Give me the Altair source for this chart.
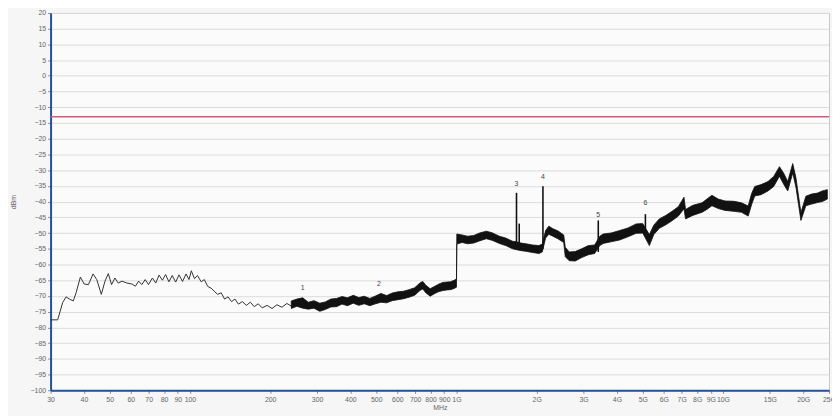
import altair as alt
import pandas as pd

# ---- data ----
low_freq = [30, 31.9, 33.3, 34.3, 35.3, 36.5, 37.4, 38.8, 40.1, 41.6, 43.3, 44.7, 46.5, 48.0, 49.4,
            50.8, 52.3, 53.8, 55.6, 58.0, 60.6, 62.4, 64.2, 66.0, 67.9, 69.9, 72.3, 74.4, 76.6, 78.8,
            81.0, 83.4, 85.8, 88.4, 91.0, 93.8, 96.7, 99.2, 101.2, 104, 106.7, 110.2, 113.2, 116.7,
            120, 123.3, 127.1, 131, 134.9, 139, 143.2, 147.6, 152, 157.3, 162.8, 168.5, 174.3, 180.4,
            186.6, 194.8, 203.2, 212.1, 221.4, 231, 241, 251.6]
low_dbm = [-77.6, -77.6, -72.1, -70.3, -71.0, -71.6, -69.0, -64.0, -66.2, -66.4, -63.0, -64.8, -69.5,
           -65.3, -62.9, -66.4, -64.3, -65.9, -65.3, -65.9, -66.2, -66.9, -65.3, -66.4, -64.8, -66.4,
           -64.3, -65.9, -63.4, -65.0, -63.2, -65.5, -63.5, -65.6, -63.3, -65.4, -63.0, -64.8, -62.0,
           -64.5, -63.5, -65.5, -64.8, -67.0, -67.5, -68.5, -69.5, -69.0, -71.0, -70.3, -71.8, -71.0,
           -72.6, -71.8, -73.0, -72.0, -73.4, -72.5, -73.8, -73.0, -74.0, -72.8, -73.6, -72.4, -73.3,
           -72.0]

band_freq = [240, 252, 265, 278, 292, 307, 322, 338, 355, 372, 390, 410, 430, 451, 473, 497, 521,
             547, 574, 603, 633, 664, 697, 731, 748, 767, 797, 830, 860, 890, 920, 950, 981, 1000,
             1003, 1050, 1100, 1160, 1220, 1294, 1360, 1449, 1530, 1624, 1680, 1750, 1820, 1930,
             2039, 2100, 2160, 2221, 2300, 2400, 2526, 2560, 2650, 2790, 2950, 3126, 3300, 3450,
             3553, 3800, 4097, 4400, 4721, 5000, 5294, 5500, 5767, 6100, 6461, 6800, 7141, 7238,
             7700, 8346, 8700, 9091, 9600, 10185, 11000, 11742, 12435, 12800, 13157, 13900, 14756,
             15500, 16290, 16900, 17498, 18271, 18790, 19609, 20466, 21500, 22617, 23600, 24637]
band_lo = [-74.0, -73.3, -73.9, -74.2, -73.9, -74.9, -74.3, -73.5, -73.4, -72.6, -73.1, -72.3, -73.0,
           -72.5, -73.1, -72.5, -72.0, -72.2, -71.5, -71.2, -70.9, -70.4, -69.8, -68.2, -67.8, -69.0,
           -70.1, -69.2, -68.6, -68.3, -68.1, -68.0, -67.6, -67.2,
           -53.5, -53.0, -53.4, -53.2, -52.5, -51.8, -52.3, -53.3, -54.0, -55.0, -55.3, -55.6, -55.8,
           -56.2, -56.5, -56.0, -51.6, -50.4, -51.0, -51.8, -53.0, -57.5, -58.8, -58.9, -57.8, -56.9,
           -56.5, -54.0, -53.3, -52.8, -52.2, -51.2, -50.1, -50.0, -54.0, -50.5, -48.5, -47.4, -46.0,
           -44.6, -42.3, -45.5, -44.4, -43.4, -42.5, -41.3, -42.2, -42.8, -43.1, -43.4, -44.6, -41.0,
           -38.2, -37.8, -36.6, -35.2, -31.9, -34.5, -36.6, -30.9, -35.5, -46.0, -41.3, -40.8, -40.3,
           -40.0, -39.2]
band_hi = [-71.6, -71.0, -70.6, -72.0, -71.5, -72.3, -71.9, -71.0, -70.8, -70.2, -70.6, -69.8, -70.5,
           -70.1, -70.8, -70.0, -69.2, -69.9, -69.1, -68.7, -68.5, -68.0, -67.4, -65.8, -65.4, -66.6,
           -67.7, -66.9, -66.2, -65.7, -65.6, -65.5, -65.0, -64.6,
           -50.3, -50.6, -51.0, -50.8, -50.0, -49.4, -49.9, -51.0, -51.6, -52.6, -52.8, -53.2, -53.4,
           -53.8, -54.0, -53.5, -49.2, -47.8, -48.6, -49.3, -50.6, -54.5, -56.0, -55.9, -55.0, -54.0,
           -53.8, -51.0, -50.3, -50.0, -49.2, -48.4, -47.1, -47.0, -50.5, -47.5, -45.5, -44.4, -43.0,
           -41.6, -38.6, -42.5, -41.2, -40.4, -39.2, -38.0, -39.2, -39.8, -39.9, -40.4, -41.4, -37.5,
           -35.2, -34.6, -33.6, -32.0, -28.9, -31.0, -33.6, -27.9, -32.5, -43.5, -38.3, -37.6, -37.3,
           -36.6, -36.2]

spike_freq = [1680, 1720, 2111, 3405, 5116]
spike_base = [-54.0, -54.0, -55.0, -56.0, -50.0]
spike_peak = [-37.2, -47.0, -35.1, -46.0, -44.0]

marker_label = ["1", "2", "3", "4", "5", "6"]
marker_freq = [265, 512, 1680, 2111, 3405, 5116]
marker_dbm = [-67.5, -66.3, -34.4, -32.2, -44.4, -40.6]

limit_dbm = [-13]

x_ticks = [30, 40, 50, 60, 70, 80, 90, 100, 200, 300, 400, 500, 600, 700, 800, 900,
           1000, 2000, 3000, 4000, 5000, 6000, 7000, 8000, 9000, 10000, 15000, 20000, 25000]
y_ticks = list(range(-100, 25, 5))

# ---- chart ----
FONT = "Liberation Sans"
AXIS_BLUE = "#24509c"

xscale = alt.Scale(type="log", domain=[30, 25000], nice=False)
yscale = alt.Scale(domain=[-100, 20], nice=False)

x_axis = alt.Axis(values=x_ticks, title="MHz", grid=False,
                  labelExpr="datum.value >= 1000 ? (datum.value / 1000) + 'G' : datum.value",
                  labelFontSize=7, labelColor="#666", labelFont=FONT, labelPadding=2,
                  tickSize=3, tickColor="#888",
                  domainColor=AXIS_BLUE, domainWidth=2,
                  titleFontSize=7, titleFontWeight="normal", titleColor="#666", titleFont=FONT,
                  titlePadding=1, labelOverlap=False, labelFlush=False)
y_axis = alt.Axis(values=y_ticks, title="dBm", grid=True, gridColor="#dcdcdc",
                  labelFontSize=7, labelColor="#666", labelFont=FONT, labelPadding=2,
                  tickSize=3, tickColor="#888",
                  domainColor=AXIS_BLUE, domainWidth=2,
                  titleFontSize=7, titleFontWeight="normal", titleColor="#666", titleFont=FONT,
                  titlePadding=14, labelOverlap=False)

low_df = pd.DataFrame({"freq": low_freq, "dbm": low_dbm})
band_df = pd.DataFrame({"freq": band_freq, "lo": band_lo, "hi": band_hi})
spike_df = pd.DataFrame({"freq": spike_freq, "base": spike_base, "peak": spike_peak})
marker_df = pd.DataFrame({"label": marker_label, "freq": marker_freq, "dbm": marker_dbm})
limit_df = pd.DataFrame({"dbm": limit_dbm})

limit = alt.Chart(limit_df).mark_rule(color="#d65a78", strokeWidth=1.5).encode(
    y=alt.Y("dbm:Q", scale=yscale, axis=y_axis)
)

low_line = alt.Chart(low_df).mark_line(color="#333333", strokeWidth=1).encode(
    x=alt.X("freq:Q", scale=xscale, axis=x_axis),
    y=alt.Y("dbm:Q", scale=yscale, axis=y_axis),
)

band = alt.Chart(band_df).mark_area(color="#111111", opacity=1, stroke="#111111", strokeWidth=0.8).encode(
    x=alt.X("freq:Q", scale=xscale, axis=x_axis),
    y=alt.Y("lo:Q", scale=yscale, axis=y_axis),
    y2="hi:Q",
)

spikes = alt.Chart(spike_df).mark_rule(color="#111111", strokeWidth=1.6).encode(
    x=alt.X("freq:Q", scale=xscale, axis=x_axis),
    y=alt.Y("base:Q", scale=yscale, axis=y_axis),
    y2="peak:Q",
)

markers = alt.Chart(marker_df).mark_text(fontSize=7, fill="#444444", font=FONT).encode(
    x=alt.X("freq:Q", scale=xscale, axis=x_axis),
    y=alt.Y("dbm:Q", scale=yscale, axis=y_axis),
    text="label:N",
)

chart = alt.layer(limit, low_line, band, spikes, markers).properties(
    width=786, height=381,
    autosize=alt.AutoSizeParams(type="none"),
    padding={"left": 43, "top": 3, "right": 3, "bottom": 24},
    background="#f6f6f6",
).configure_view(fill="#fbfbfb", stroke="#c8c8c8", strokeWidth=1)

chart.save("out.html", embed_options={"renderer": "svg", "actions": False})
